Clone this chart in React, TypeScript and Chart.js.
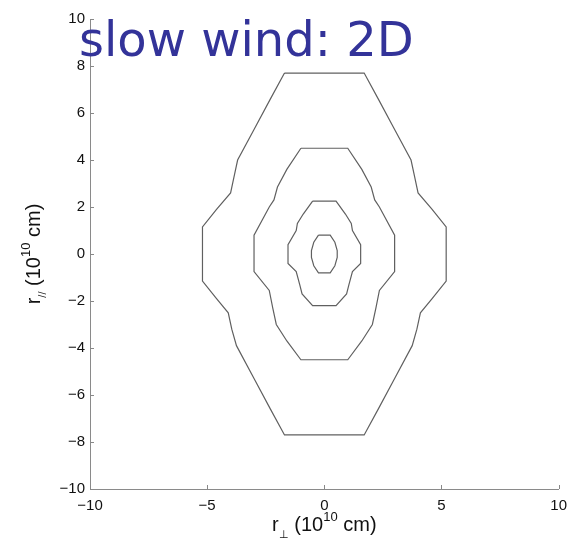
import React, { useEffect, useRef } from 'react';
import { Chart, registerables } from 'chart.js';

Chart.register(...registerables);

// Axis ranges and tick values
const xRange = [-10, 10];
const yRange = [-10, 10];
const xTickStep = 5;
const yTickStep = 2;

// Title / axis labels
const titleText = 'slow wind: 2D';

// Contour level 1 (outermost)
const contour1X = [-1.7, 1.7, 2.3, 3.0, 3.7, 3.85, 4.0, 4.6, 5.2, 5.2, 4.6, 4.1, 3.95, 3.75, 3.0, 2.3, 1.7, -1.7, -2.3, -3.0, -3.75, -3.95, -4.1, -4.6, -5.2, -5.2, -4.6, -4.0, -3.85, -3.7, -3.0, -2.3, -1.7];
const contour1Y = [7.7, 7.7, 6.6, 5.3, 4.0, 3.3, 2.6, 1.9, 1.15, -1.15, -1.9, -2.5, -3.2, -3.9, -5.3, -6.6, -7.7, -7.7, -6.6, -5.3, -3.9, -3.2, -2.5, -1.9, -1.15, 1.15, 1.9, 2.6, 3.3, 4.0, 5.3, 6.6, 7.7];

// Contour level 2
const contour2X = [-1.0, 1.0, 1.6, 2.0, 2.15, 2.35, 3.0, 3.0, 2.35, 2.2, 2.05, 1.6, 1.0, -1.0, -1.6, -2.05, -2.2, -2.35, -3.0, -3.0, -2.35, -2.15, -2.0, -1.6, -1.0];
const contour2Y = [4.5, 4.5, 3.6, 2.85, 2.3, 2.0, 0.8, -0.75, -1.55, -2.3, -3.0, -3.7, -4.5, -4.5, -3.7, -3.0, -2.3, -1.55, -0.75, 0.8, 2.0, 2.3, 2.85, 3.6, 4.5];

// Contour level 3
const contour3X = [-0.5, 0.5, 0.9, 1.15, 1.2, 1.55, 1.55, 1.2, 1.05, 0.95, 0.5, -0.5, -0.95, -1.05, -1.2, -1.55, -1.55, -1.2, -1.15, -0.9, -0.5];
const contour3Y = [2.25, 2.25, 1.7, 1.3, 1.0, 0.4, -0.4, -0.75, -1.3, -1.7, -2.2, -2.2, -1.7, -1.3, -0.75, -0.4, 0.4, 1.0, 1.3, 1.7, 2.25];

// Contour level 4 (innermost)
const contour4X = [-0.25, 0.25, 0.45, 0.55, 0.55, 0.45, 0.25, -0.25, -0.45, -0.55, -0.55, -0.45, -0.25];
const contour4Y = [0.8, 0.8, 0.5, 0.15, -0.15, -0.5, -0.8, -0.8, -0.5, -0.15, 0.15, 0.5, 0.8];

const contours = [
  [contour1X, contour1Y],
  [contour2X, contour2Y],
  [contour3X, contour3Y],
  [contour4X, contour4Y],
];

const FONT = "'Liberation Sans', Arial, Helvetica, sans-serif";

type Seg = { t: string; size: number; dy: number };

function drawRich(ctx: CanvasRenderingContext2D, segs: Seg[], cx: number, cy: number) {
  let total = 0;
  const widths: number[] = [];
  for (const s of segs) {
    ctx.font = `${s.size}px ${FONT}`;
    const w = ctx.measureText(s.t).width;
    widths.push(w);
    total += w;
  }
  let x = cx - total / 2;
  ctx.textAlign = 'left';
  ctx.textBaseline = 'alphabetic';
  segs.forEach((s, i) => {
    ctx.font = `${s.size}px ${FONT}`;
    ctx.fillText(s.t, x, cy + s.dy);
    x += widths[i];
  });
}

const fmt = (v: number | string) => {
  const n = Number(v);
  return n < 0 ? '\u2212' + Math.abs(n) : String(n);
};

const axisDecor = {
  id: 'axisDecor',
  afterDraw(chart: any) {
    const { ctx, chartArea, scales } = chart;
    const xs = scales.x;
    const ys = scales.y;
    ctx.save();
    // inward tick marks
    ctx.strokeStyle = '#888';
    ctx.lineWidth = 1;
    ctx.beginPath();
    for (const t of xs.ticks) {
      const px = Math.round(xs.getPixelForValue(t.value)) + 0.5;
      ctx.moveTo(px, chartArea.bottom);
      ctx.lineTo(px, chartArea.bottom - 4);
    }
    for (const t of ys.ticks) {
      const py = Math.round(ys.getPixelForValue(t.value)) + 0.5;
      ctx.moveTo(chartArea.left, py);
      ctx.lineTo(chartArea.left + 4, py);
    }
    ctx.stroke();

    // axis titles
    ctx.fillStyle = '#111';
    const xc = (chartArea.left + chartArea.right) / 2;
    drawRich(
      ctx,
      [
        { t: 'r', size: 20, dy: 0 },
        { t: '\u22A5', size: 11, dy: 7 },
        { t: ' (10', size: 20, dy: 0 },
        { t: '10', size: 13, dy: -10 },
        { t: ' cm)', size: 20, dy: 0 },
      ],
      xc,
      531
    );
    const yc = (chartArea.top + chartArea.bottom) / 2;
    ctx.translate(40, yc);
    ctx.rotate(-Math.PI / 2);
    drawRich(
      ctx,
      [
        { t: 'r', size: 20, dy: 0 },
        { t: '//', size: 11, dy: 6 },
        { t: ' (10', size: 20, dy: 0 },
        { t: '10', size: 13, dy: -10 },
        { t: ' cm)', size: 20, dy: 0 },
      ],
      0,
      0
    );
    ctx.restore();
  },
};

export default function App() {
  const ref = useRef<HTMLCanvasElement | null>(null);

  useEffect(() => {
    if (!ref.current) return;
    const datasets = contours.map(([xs, ys], i) => ({
      label: `level ${i + 1}`,
      data: xs.map((x, j) => ({ x, y: ys[j] })),
      showLine: true,
      borderColor: '#606060',
      borderWidth: 1.2,
      pointRadius: 0,
      pointHoverRadius: 0,
      fill: false,
      tension: 0,
    }));
    const chart = new Chart(ref.current, {
      type: 'scatter',
      data: { datasets },
      options: {
        animation: false,
        responsive: false,
        maintainAspectRatio: false,
        layout: { padding: { left: 0, right: 15, top: 19, bottom: 0 } },
        plugins: {
          legend: { display: false },
          tooltip: { enabled: false },
          title: { display: false },
        },
        scales: {
          x: {
            type: 'linear',
            min: xRange[0],
            max: xRange[1],
            grid: { display: false, drawTicks: false },
            border: { display: true, color: '#8a8a8a', width: 1 },
            ticks: {
              stepSize: xTickStep,
              color: '#111',
              font: { family: FONT, size: 15 },
              padding: 8,
              maxRotation: 0,
              callback: (v: any) => fmt(v),
            },
            afterFit: (s: any) => {
              s.height = 51;
            },
          },
          y: {
            type: 'linear',
            min: yRange[0],
            max: yRange[1],
            grid: { display: false, drawTicks: false },
            border: { display: true, color: '#8a8a8a', width: 1 },
            ticks: {
              stepSize: yTickStep,
              color: '#111',
              font: { family: FONT, size: 15 },
              padding: 5,
              callback: (v: any) => fmt(v),
            },
            afterFit: (s: any) => {
              s.width = 90;
            },
          },
        },
      },
      plugins: [axisDecor],
    } as any);
    return () => chart.destroy();
  }, []);

  return (
    <div style={{ position: 'absolute', left: 0, top: 0, width: 575, height: 540, background: '#fff' }}>
      <canvas ref={ref} width={575} height={540} style={{ width: 575, height: 540, display: 'block' }} />
      <div
        style={{
          position: 'absolute',
          left: 79,
          top: 15,
          fontFamily: "'DejaVu Sans', sans-serif",
          fontSize: 48,
          lineHeight: '48px',
          color: '#333399',
          whiteSpace: 'nowrap',
          pointerEvents: 'none',
        }}
      >
        {titleText}
      </div>
    </div>
  );
}
